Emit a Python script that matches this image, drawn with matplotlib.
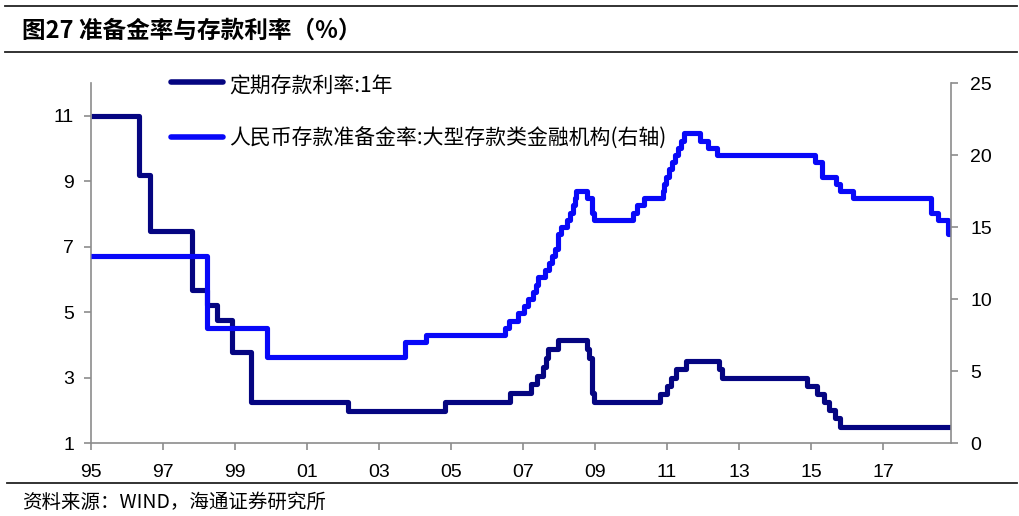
import matplotlib
matplotlib.use('Agg')
import matplotlib.pyplot as plt
import matplotlib.dates as mdates
from matplotlib.lines import Line2D
import pandas as pd

# ---------------- data ----------------
dep_dates = ['1995-01-01', '1996-05-01', '1996-08-23', '1997-10-23', '1998-03-25', '1998-07-01',
             '1998-12-07', '1999-06-10', '2002-02-21', '2004-10-29', '2006-08-19', '2007-03-18',
             '2007-05-19', '2007-07-21', '2007-08-22', '2007-09-15', '2007-12-21', '2008-10-09',
             '2008-10-30', '2008-11-27', '2008-12-23', '2010-10-20', '2010-12-26', '2011-02-09',
             '2011-04-06', '2011-07-07', '2012-06-08', '2012-07-06', '2014-11-22', '2015-03-01',
             '2015-05-11', '2015-06-28', '2015-08-26', '2015-10-24', '2018-11-15']
dep_vals = [10.98, 9.18, 7.47, 5.67, 5.22, 4.77, 3.78, 2.25, 1.98, 2.25, 2.52, 2.79,
            3.06, 3.33, 3.60, 3.87, 4.14, 3.87, 3.60, 2.52, 2.25, 2.50, 2.75, 3.00,
            3.25, 3.50, 3.25, 3.00, 2.75, 2.50, 2.25, 2.00, 1.75, 1.50, 1.50]

rrr_dates = ['1995-01-01', '1998-03-21', '1999-11-21', '2003-09-21', '2004-04-25', '2006-07-05',
             '2006-08-15', '2006-11-15', '2007-01-15', '2007-02-25', '2007-04-16', '2007-05-15',
             '2007-06-05', '2007-08-15', '2007-09-25', '2007-10-25', '2007-11-26', '2007-12-25',
             '2008-01-25', '2008-03-25', '2008-04-25', '2008-05-20', '2008-06-15', '2008-06-25',
             '2008-10-15', '2008-12-05', '2008-12-25', '2010-01-18', '2010-02-25', '2010-05-10',
             '2010-11-16', '2010-11-29', '2010-12-20', '2011-01-20', '2011-02-24', '2011-03-25',
             '2011-04-21', '2011-05-18', '2011-06-20', '2011-12-05', '2012-02-24', '2012-05-18',
             '2015-02-05', '2015-04-20', '2015-09-06', '2015-10-24', '2016-03-01', '2018-04-25',
             '2018-07-05', '2018-10-15', '2018-11-15']
rrr_vals = [13, 8, 6, 7, 7.5, 8, 8.5, 9, 9.5, 10, 10.5, 11, 11.5, 12, 12.5, 13, 13.5, 14.5,
            15, 15.5, 16, 16.5, 17, 17.5, 17, 16, 15.5, 16, 16.5, 17, 17.5, 18, 18.5, 19,
            19.5, 20, 20.5, 21, 21.5, 21, 20.5, 20, 19.5, 18.5, 18, 17.5, 17, 16, 15.5, 14.5, 14.5]

x_ticks = ['1995', '1997', '1999', '2001', '2003', '2005', '2007', '2009', '2011', '2013', '2015', '2017']
left_ticks = [1, 3, 5, 7, 9, 11]
right_ticks = [0, 5, 10, 15, 20, 25]

name_dep = '定期存款利率:1年'
name_rrr = '人民币存款准备金率:大型存款类金融机构(右轴)'
title = '图27 准备金率与存款利率（%）'
source = '资料来源：WIND，海通证券研究所'

# ---------------- style ----------------
CJK = ['Noto Sans CJK SC', 'DejaVu Sans']
plt.rcParams['font.family'] = ['Liberation Sans', 'Noto Sans CJK SC', 'DejaVu Sans']
NAVY = '#050581'
BLUE = '#0808f8'
GRAY = '#8c8c8c'
W, H = 1019, 516

fig = plt.figure(figsize=(W / 100, H / 100), dpi=100)
L, R, T, B = 90.7, 950.7, 83, 443
ax = fig.add_axes([L / W, 1 - B / H, (R - L) / W, (B - T) / H])
ax2 = ax.twinx()

ax.plot(pd.to_datetime(dep_dates), dep_vals, drawstyle='steps-post', color=NAVY, lw=3.7,
        solid_joinstyle='round', solid_capstyle='butt')
ax2.plot(pd.to_datetime(rrr_dates), rrr_vals, drawstyle='steps-post', color=BLUE, lw=3.7,
         solid_joinstyle='round', solid_capstyle='butt')

ax.set_xlim(pd.Timestamp('1995-01-01'), pd.Timestamp('2018-11-15'))
ax.set_ylim(1, 12)
ax2.set_ylim(0, 25)
ax.set_yticks(left_ticks)
ax2.set_yticks(right_ticks)
ax.set_xticks(pd.to_datetime(x_ticks))
ax.xaxis.set_major_formatter(mdates.DateFormatter('%y'))

for a in (ax, ax2):
    for s in a.spines.values():
        s.set_color(GRAY)
        s.set_linewidth(1.2)
    a.spines['top'].set_visible(False)
ax.spines['right'].set_visible(False)
ax2.spines['left'].set_visible(False)
ax2.spines['bottom'].set_visible(False)

ax.tick_params(axis='y', direction='out', length=5, width=1.2, color=GRAY, pad=7, labelsize=14)
ax.tick_params(axis='x', direction='out', length=5, width=1.2, color=GRAY, pad=10, labelsize=14)
ax2.tick_params(axis='y', direction='out', length=5, width=1.2, color=GRAY, pad=9, labelsize=14)

# legend (manual, Excel-like)
fig.add_artist(Line2D([171 / W, 223 / W], [1 - 82 / H] * 2, color=NAVY, lw=4, solid_capstyle='round'))
fig.add_artist(Line2D([171 / W, 223 / W], [1 - 137 / H] * 2, color=BLUE, lw=4, solid_capstyle='round'))
fig.text(229 / W, 1 - 87 / H, name_dep, family=CJK, fontsize=15, va='center', ha='left')
fig.text(229 / W, 1 - 139 / H, name_rrr, family=CJK, fontsize=15, va='center', ha='left')

# title, rules, source
fig.text(22 / W, 1 - 31 / H, title, family=CJK, fontsize=17, weight='bold', va='center', ha='left')
fig.add_artist(Line2D([5 / W, 1017 / W], [1 - 6 / H] * 2, color='#222222', lw=1.3))
fig.add_artist(Line2D([5 / W, 1017 / W], [1 - 52 / H] * 2, color='#222222', lw=1.3))
fig.add_artist(Line2D([7 / W, 1017 / W], [1 - 483 / H] * 2, color='#222222', lw=1.3))
fig.text(22 / W, 1 - 502 / H, source, family=CJK, fontsize=14, va='center', ha='left')

fig.savefig('out.png', dpi=100)
